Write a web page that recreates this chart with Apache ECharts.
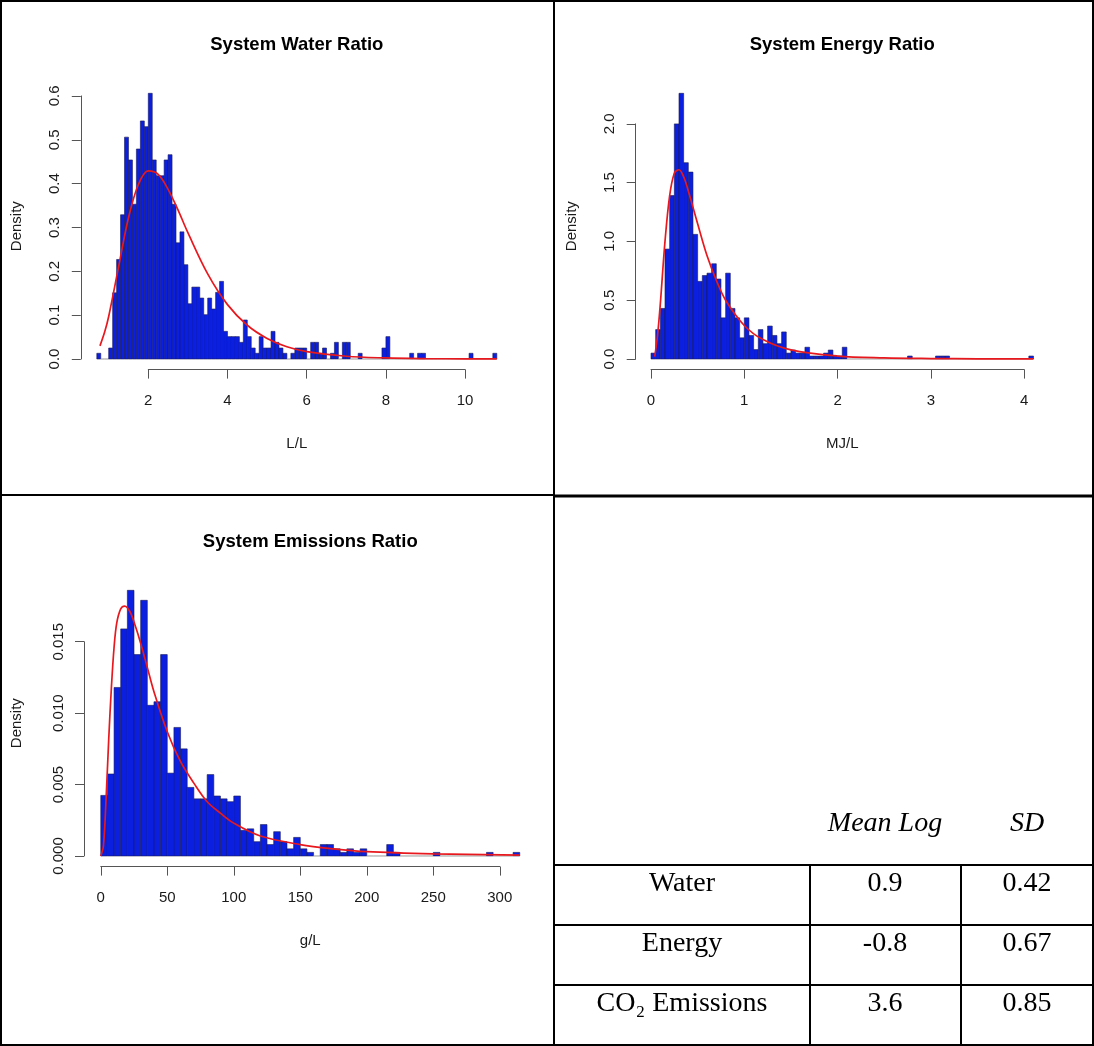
<!DOCTYPE html>
<html>
<head>
<meta charset="utf-8">
<script src="https://cdn.jsdelivr.net/npm/echarts@6/dist/echarts.min.js"></script>
<style>
html,body{margin:0;padding:0;background:#fff;}
#c{width:1094px;height:1046px;}
</style>
</head>
<body>
<div id="c"></div>
<script>
// ---------------- DATA ----------------
// System Water Ratio (L/L) histogram, bin width 0.1 starting at 0.7
const waterBinStart = 0.7;
const waterBinWidth = 0.1;
const waterDensity = [
  0.013, 0, 0, 0.025, 0.151, 0.227, 0.329, 0.506, 0.454, 0.353,
  0.479, 0.543, 0.530, 0.606, 0.454, 0.418, 0.418, 0.454, 0.466, 0.353,
  0.265, 0.290, 0.215, 0.126, 0.164, 0.164, 0.139, 0.101, 0.139, 0.114,
  0.152, 0.177, 0.063, 0.051, 0.051, 0.051, 0.038, 0.089, 0.051, 0.025,
  0.013, 0.051, 0.025, 0.025, 0.063, 0.038, 0.025, 0.013, 0, 0.013,
  0.025, 0.025, 0.025, 0, 0.038, 0.038, 0.013, 0.025, 0, 0.013,
  0.038, 0, 0.038, 0.038, 0, 0, 0.013, 0, 0, 0,
  0, 0, 0.025, 0.051, 0, 0, 0, 0, 0, 0.013,
  0, 0.013, 0.013, 0, 0, 0, 0, 0, 0, 0,
  0, 0, 0, 0, 0.013, 0, 0, 0, 0, 0,
  0.013
];
const waterCurveX = [0.78, 0.9, 1.0, 1.25, 1.5, 1.75, 2.0, 2.25, 2.5, 2.75, 3.0, 3.5, 4.0, 4.5, 5.0, 5.5, 6.0, 7.0, 8.0, 9.0, 10.0, 10.8];
const waterCurveY = [0.030, 0.062, 0.097, 0.210, 0.322, 0.398, 0.429, 0.421, 0.387, 0.340, 0.288, 0.194, 0.124, 0.077, 0.047, 0.028, 0.017, 0.0062, 0.0024, 0.0009, 0.0004, 0.0002];
const waterXTicks = [2, 4, 6, 8, 10];
const waterYTicks = [0, 0.1, 0.2, 0.3, 0.4, 0.5, 0.6];

// System Energy Ratio (MJ/L) histogram, bin width 0.05 starting at 0
const energyBinStart = 0;
const energyBinWidth = 0.05;
const energyDensity = [
  0.05, 0.25, 0.43, 0.935, 1.39, 2.0, 2.26, 1.67, 1.59, 1.06,
  0.66, 0.71, 0.73, 0.81, 0.68, 0.35, 0.73, 0.43, 0.35, 0.18,
  0.35, 0.20, 0.08, 0.25, 0.13, 0.28, 0.20, 0.13, 0.23, 0.05,
  0.076, 0.05, 0.05, 0.10, 0.025, 0.025, 0.025, 0.05, 0.076, 0.025,
  0.025, 0.10, 0, 0, 0, 0, 0, 0, 0, 0,
  0, 0, 0, 0, 0, 0.025, 0, 0, 0, 0,
  0, 0.025, 0.025, 0.025, 0, 0, 0, 0, 0, 0,
  0, 0, 0, 0, 0, 0, 0, 0, 0, 0,
  0, 0.025
];
const energyCurveX = [0.04, 0.07, 0.1, 0.15, 0.2, 0.25, 0.3, 0.35, 0.4, 0.5, 0.6, 0.7, 0.8, 1.0, 1.2, 1.5, 2.0, 2.5, 3.0, 3.5, 4.1];
const energyCurveY = [0.02, 0.20, 0.47, 1.00, 1.39, 1.58, 1.61, 1.55, 1.43, 1.15, 0.88, 0.67, 0.50, 0.285, 0.165, 0.077, 0.025, 0.009, 0.0036, 0.0015, 0.0006];
const energyXTicks = [0, 1, 2, 3, 4];
const energyYTicks = [0, 0.5, 1.0, 1.5, 2.0];

// System Emissions Ratio (g/L) histogram, bin width 5 starting at 0
const emisBinStart = 0;
const emisBinWidth = 5;
const emisDensity = [
  0.00424, 0.00574, 0.0118, 0.0159, 0.0186, 0.0141, 0.0179, 0.01055, 0.0108, 0.0141,
  0.0058, 0.0090, 0.0075, 0.0048, 0.0040, 0.0040, 0.0057, 0.0042, 0.0040, 0.0038,
  0.0042, 0.0018, 0.0019, 0.0010, 0.0022, 0.0008, 0.0017, 0.0010, 0.0005, 0.0013,
  0.0005, 0.00025, 0, 0.0008, 0.0008, 0.0005, 0.00025, 0.0005, 0.00025, 0.0005,
  0, 0, 0, 0.0008, 0.00025, 0, 0, 0, 0, 0,
  0.00025, 0, 0, 0, 0, 0, 0, 0, 0.00025, 0,
  0, 0, 0.00025
];
const emisCurveX = [0, 2, 4, 6, 8, 10, 12, 15, 18, 22, 26, 30, 35, 40, 50, 60, 70, 80, 90, 100, 120, 150, 175, 200, 250, 315];
const emisCurveY = [0, 0.0007, 0.0040, 0.0082, 0.0118, 0.0146, 0.0163, 0.0173, 0.0175, 0.0171, 0.0161, 0.0149, 0.0132, 0.0115, 0.0087, 0.0066, 0.0051, 0.0038, 0.0030, 0.0023, 0.0014, 0.0008, 0.0005, 0.0003, 0.00015, 0.00006];
const emisXTicks = [0, 50, 100, 150, 200, 250, 300];
const emisYTicks = [0, 0.005, 0.010, 0.015];

// Table of lognormal parameters
const tableHeaders = ['Mean Log', 'SD'];
const tableRows = ['Water', 'Energy', 'CO\u2082 Emissions'];
const meanLog = ['0.9', '-0.8', '3.6'];
const sdLog = ['0.42', '0.67', '0.85'];

// ---------------- LAYOUT ----------------
const FONT = "'Liberation Sans', Arial, Helvetica, sans-serif";
const SERIF = "'Liberation Serif', 'Times New Roman', serif";
const AXIS_COLOR = '#555';
const TEXT_COLOR = '#1a1a1a';
const BAR_FILL = '#0a1fe0';
const BAR_STROKE = '#1b1b55';
const CURVE_COLOR = '#e8191e';

const panels = [
  {
    title: 'System Water Ratio', xName: 'L/L',
    plot: {left: 80.8, top: 82.7, width: 432, height: 286.9},
    xr: [0.296, 11.204], yr: [-0.0242, 0.6302],
    start: waterBinStart, width: waterBinWidth, dens: waterDensity,
    cx: waterCurveX, cy: waterCurveY,
    xTicks: waterXTicks, yTicks: waterYTicks, yDigits: 1, xDigits: 0,
    nameGapY: 56
  },
  {
    title: 'System Energy Ratio', xName: 'MJ/L',
    plot: {left: 635.7, top: 82.7, width: 413.1, height: 286.9},
    xr: [-0.164, 4.264], yr: [-0.0904, 2.3504],
    start: energyBinStart, width: energyBinWidth, dens: energyDensity,
    cx: energyCurveX, cy: energyCurveY,
    xTicks: energyXTicks, yTicks: energyYTicks, yDigits: 1, xDigits: 0,
    nameGapY: 56
  },
  {
    title: 'System Emissions Ratio', xName: 'g/L',
    plot: {left: 84.0, top: 579.7, width: 452.5, height: 286.9},
    xr: [-12.6, 327.6], yr: [-0.000744, 0.019344],
    start: emisBinStart, width: emisBinWidth, dens: emisDensity,
    cx: emisCurveX, cy: emisCurveY,
    xTicks: emisXTicks, yTicks: emisYTicks, yDigits: 3, xDigits: 0,
    nameGapY: 60
  }
];

const grid = [], xAxis = [], yAxis = [], series = [], graphic = [];

function hiddenAxis(extra) {
  return Object.assign({
    type: 'value', show: false, axisLine: {show: false}, axisTick: {show: false},
    axisLabel: {show: false}, splitLine: {show: false}
  }, extra);
}

function renderBin(params, api) {
  const x0 = api.value(0), x1 = api.value(1), h = api.value(2);
  const p0 = api.coord([x0, h]);
  const p1 = api.coord([x1, 0]);
  return {
    type: 'rect',
    shape: {x: p0[0], y: p0[1], width: p1[0] - p0[0], height: p1[1] - p0[1]},
    style: h > 0 ? {fill: BAR_FILL, stroke: BAR_STROKE, lineWidth: 0.6}
                 : {fill: 'none', stroke: '#999', lineWidth: 0.6}
  };
}

panels.forEach(function (p) {
  const P = p.plot;
  const plotBottom = P.top + P.height;
  const xScale = P.width / (p.xr[1] - p.xr[0]);
  const yScale = P.height / (p.yr[1] - p.yr[0]);
  const px = function (u) { return P.left + (u - p.xr[0]) * xScale; };
  const py = function (v) { return plotBottom - (v - p.yr[0]) * yScale; };

  // data grid (R plot region)
  const gData = grid.length;
  grid.push({left: P.left, top: P.top, width: P.width, height: P.height,
             containLabel: false, outerBoundsMode: 'none', show: false});
  xAxis.push({
    type: 'value', gridIndex: gData, min: p.xr[0], max: p.xr[1], show: true,
    axisLine: {show: false}, axisTick: {show: false}, axisLabel: {show: false}, splitLine: {show: false},
    name: p.xName, nameLocation: 'middle', nameGap: 67,
    nameTextStyle: {fontFamily: FONT, fontSize: 15, color: TEXT_COLOR}
  });
  yAxis.push({
    type: 'value', gridIndex: gData, min: p.yr[0], max: p.yr[1], show: true,
    axisLine: {show: false}, axisTick: {show: false}, axisLabel: {show: false}, splitLine: {show: false},
    name: 'Density', nameLocation: 'middle', nameGap: p.nameGapY, nameRotate: 90,
    nameTextStyle: {fontFamily: FONT, fontSize: 15, color: TEXT_COLOR}
  });
  const axData = xAxis.length - 1;

  const bins = p.dens.map(function (d, i) {
    const a = +(p.start + i * p.width).toFixed(4);
    const b = +(p.start + (i + 1) * p.width).toFixed(4);
    return [a, b, d];
  });
  series.push({
    type: 'custom', xAxisIndex: axData, yAxisIndex: axData, renderItem: renderBin,
    encode: {x: [0, 1], y: 2}, data: bins, silent: true, clip: false
  });
  series.push({
    type: 'line', xAxisIndex: axData, yAxisIndex: axData,
    data: p.cx.map(function (x, i) { return [x, p.cy[i]]; }),
    smooth: 0.35, showSymbol: false, symbol: 'none', silent: true,
    lineStyle: {color: CURVE_COLOR, width: 1.7}, z: 5
  });

  // x axis display (first tick to last tick)
  const xt = p.xTicks;
  const gx = grid.length;
  grid.push({left: px(xt[0]), width: px(xt[xt.length - 1]) - px(xt[0]),
             top: plotBottom - 10, height: 10, containLabel: false, outerBoundsMode: 'none'});
  xAxis.push({
    type: 'value', gridIndex: gx, position: 'bottom',
    min: xt[0], max: xt[xt.length - 1], interval: xt[1] - xt[0],
    axisLine: {show: true, onZero: false, lineStyle: {color: AXIS_COLOR, width: 1}},
    axisTick: {show: true, length: 9, lineStyle: {color: AXIS_COLOR, width: 1}},
    axisLabel: {show: true, margin: 24, fontFamily: FONT, fontSize: 15, color: TEXT_COLOR,
                formatter: function (v) { return v.toFixed(p.xDigits); }},
    splitLine: {show: false}
  });
  yAxis.push(hiddenAxis({gridIndex: gx, min: 0, max: 1}));

  // y axis display
  const yt = p.yTicks;
  const gy = grid.length;
  grid.push({left: P.left, width: 10, top: py(yt[yt.length - 1]),
             height: py(yt[0]) - py(yt[yt.length - 1]), containLabel: false, outerBoundsMode: 'none'});
  xAxis.push(hiddenAxis({gridIndex: gy, min: 0, max: 1}));
  yAxis.push({
    type: 'value', gridIndex: gy, position: 'left',
    min: yt[0], max: yt[yt.length - 1], interval: +(yt[1] - yt[0]).toFixed(6),
    axisLine: {show: true, onZero: false, lineStyle: {color: AXIS_COLOR, width: 1}},
    axisTick: {show: true, length: 9, lineStyle: {color: AXIS_COLOR, width: 1}},
    axisLabel: {show: true, margin: 18, rotate: 90, fontFamily: FONT, fontSize: 15, color: TEXT_COLOR,
                formatter: function (v) { return v.toFixed(p.yDigits); }},
    splitLine: {show: false}
  });

  // title centred over the plot region
  graphic.push({
    type: 'text', x: P.left + P.width / 2, y: P.top - 38, silent: true,
    style: {text: p.title, font: 'bold 18.5px ' + FONT, fill: '#000',
            textAlign: 'center', textVerticalAlign: 'middle'}
  });
});

// ---------------- FRAME & TABLE ----------------
function hline(x1, x2, y, w) {
  graphic.push({type: 'line', silent: true, shape: {x1: x1, y1: y, x2: x2, y2: y},
                style: {stroke: '#000', lineWidth: w || 2}});
}
function vline(x, y1, y2, w) {
  graphic.push({type: 'line', silent: true, shape: {x1: x, y1: y1, x2: x, y2: y2},
                style: {stroke: '#000', lineWidth: w || 2}});
}
graphic.push({type: 'rect', silent: true, shape: {x: 1, y: 1, width: 1092, height: 1044},
              style: {fill: 'none', stroke: '#000', lineWidth: 2}});
vline(554, 0, 1046, 2);
hline(0, 554, 495, 2);
hline(554, 1094, 496, 3);

const rowTop = [865, 925, 985];
const colCenters = [682, 885, 1027];
rowTop.forEach(function (y) { hline(554, 1094, y, 2); });
vline(810, 865, 1046, 2);
vline(961, 865, 1046, 2);

function cellText(txt, x, y, italic) {
  graphic.push({type: 'text', silent: true, x: x, y: y,
    style: {text: txt, font: (italic ? 'italic ' : '') + '28px ' + SERIF, fill: '#000',
            textAlign: 'center', textVerticalAlign: 'middle'}});
}
cellText(tableHeaders[0], colCenters[1], 824, true);
cellText(tableHeaders[1], colCenters[2], 824, true);
tableRows.forEach(function (r, i) {
  const yc = rowTop[i] + 19;
  cellText(r, colCenters[0], yc, false);
  cellText(meanLog[i], colCenters[1], yc, false);
  cellText(sdLog[i], colCenters[2], yc, false);
});

const chart = echarts.init(document.getElementById('c'), null, {renderer: 'canvas'});
chart.setOption({
  backgroundColor: '#fff',
  animation: false,
  grid: grid, xAxis: xAxis, yAxis: yAxis, series: series, graphic: graphic
});
</script>
</body>
</html>
